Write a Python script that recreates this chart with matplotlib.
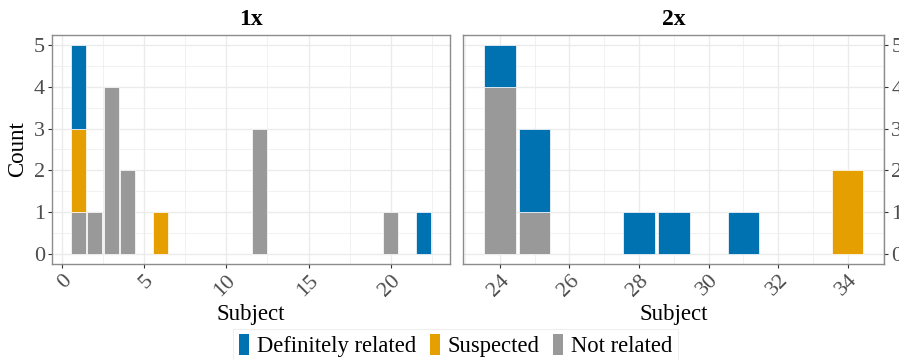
import matplotlib
matplotlib.use("Agg")
import matplotlib.pyplot as plt
from matplotlib.patches import Patch
import numpy as np

plt.rcParams["font.family"] = ["Liberation Serif", "DejaVu Serif"]

categories = ["Definitely related", "Suspected", "Not related"]
colors = {"Definitely related": "#0072B2", "Suspected": "#E69F00",
          "Not related": "#999999"}

# 1x panel
subj_1x = [1, 2, 3, 4, 6, 12, 20, 22]
nr_1x = [1, 1, 4, 2, 0, 3, 1, 0]
sus_1x = [2, 0, 0, 0, 1, 0, 0, 0]
def_1x = [2, 0, 0, 0, 0, 0, 0, 1]

# 2x panel
subj_2x = [24, 25, 28, 29, 31, 34]
nr_2x = [4, 1, 0, 0, 0, 0]
sus_2x = [0, 0, 0, 0, 0, 2]
def_2x = [1, 2, 1, 1, 1, 0]

fig = plt.figure(figsize=(8.99, 3.6), dpi=100)
ax1 = fig.add_axes([0.0578, 0.2667, 0.4428, 0.6361])
ax2 = fig.add_axes([0.5154, 0.2667, 0.4683, 0.6361])

frame_col = "#8c8c8c"
grid_col = "#ebebeb"
txt_col = "#4d4d4d"


def draw(ax, subj, nr, sus, dfn, title, xticks, xlim, right=False):
    subj = np.array(subj)
    bottom = np.zeros(len(subj))
    for name, vals in [("Not related", nr), ("Suspected", sus),
                       ("Definitely related", dfn)]:
        vals = np.array(vals, dtype=float)
        m = vals > 0
        ax.bar(subj[m], vals[m], width=0.9, bottom=bottom[m],
               color=colors[name], edgecolor="white", linewidth=0.5,
               zorder=3)
        bottom = bottom + vals
    ax.set_yticks(range(6))
    ax.set_xticks(xticks)
    step = xticks[1] - xticks[0]
    ax.set_xticks(np.arange(xticks[0] - step / 2, xticks[-1] + step, step),
                  minor=True)
    ax.set_yticks(np.arange(-0.5, 5.6, 1), minor=True)
    ax.set_xlim(*xlim)
    ax.set_ylim(-0.25, 5.25)
    ax.grid(True, which="major", color=grid_col, lw=1.0, zorder=0)
    ax.grid(True, which="minor", color=grid_col, lw=0.5, zorder=0)
    ax.tick_params(which="minor", length=0)
    ax.tick_params(which="major", length=3, color="#333333",
                   labelsize=16, labelcolor=txt_col, pad=2)
    for lab in ax.get_xticklabels():
        lab.set_rotation(45)
        lab.set_ha("right")
        lab.set_rotation_mode("anchor")
    for s in ax.spines.values():
        s.set_color(frame_col)
        s.set_linewidth(1.0)
    if right:
        ax.yaxis.tick_right()
    ax.set_title(title, fontsize=17, fontweight="bold", pad=7)
    ax.set_xlabel("Subject", fontsize=16.5, labelpad=3)


draw(ax1, subj_1x, nr_1x, sus_1x, def_1x, "1x", [0, 5, 10, 15, 20],
     (-0.6, 23.6))
draw(ax2, subj_2x, nr_2x, sus_2x, def_2x, "2x", [24, 26, 28, 30, 32, 34],
     (22.95, 35.05), right=True)
ax1.set_ylabel("Count", fontsize=16.5, labelpad=4)

handles = [Patch(facecolor=colors[c], edgecolor="none") for c in categories]
leg = fig.legend(handles, categories, loc="upper center",
                 bbox_to_anchor=(0.507, 0.087), ncol=3, fontsize=16.3,
                 frameon=True, fancybox=False, handlelength=0.45,
                 handleheight=1.0, handletextpad=0.35, columnspacing=0.6,
                 borderpad=0.25, borderaxespad=0)
leg.get_frame().set_edgecolor("#ebebeb")
leg.get_frame().set_linewidth(0.8)

fig.savefig("out.png", dpi=100, facecolor="white")
